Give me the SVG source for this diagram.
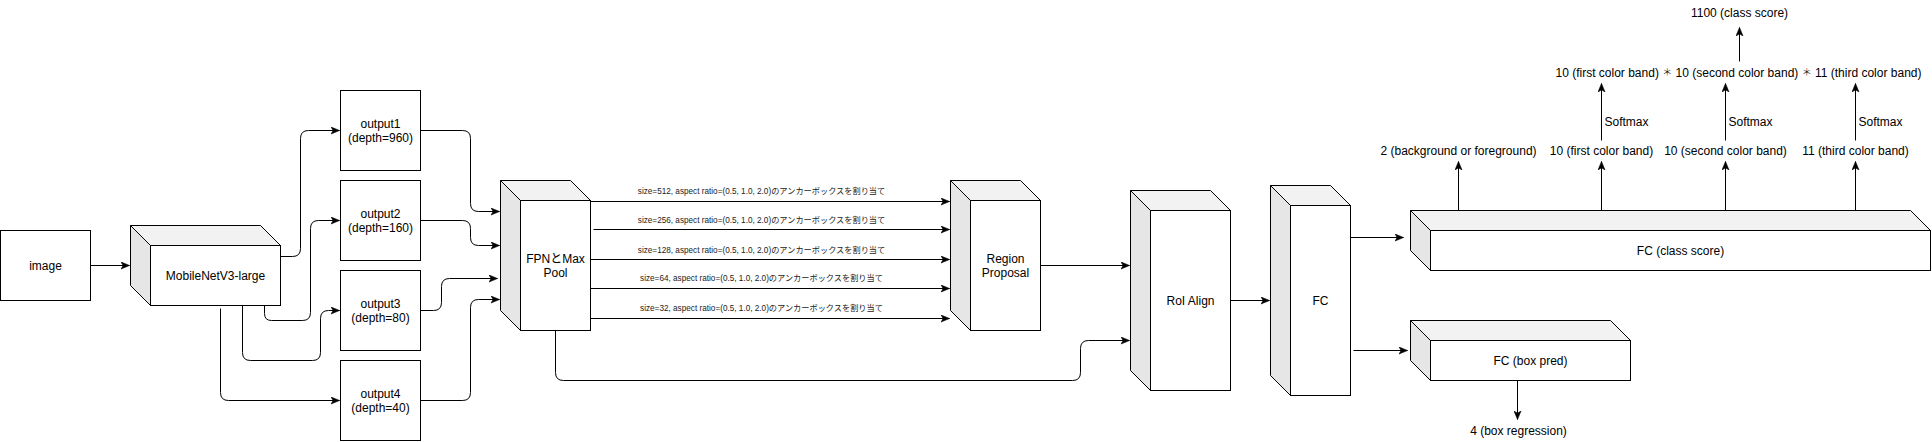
<svg xmlns="http://www.w3.org/2000/svg" width="1932" height="442" viewBox="0 0 1932 442">
<defs>
<marker id="arr" markerUnits="userSpaceOnUse" markerWidth="9" markerHeight="8" viewBox="0 0 9 8" refX="8.5" refY="4" orient="auto">
<path d="M0,0.5 L8.5,4 L0,7.5 L2.2,4 Z" fill="#000" stroke="#000" stroke-width="0.6"/>
</marker>
</defs>
<style>
.box{fill:#fff;stroke:#000;stroke-width:1}
.top{fill:#f2f2f2;stroke:#000;stroke-width:1;stroke-linejoin:miter}
.side{fill:#e6e6e6;stroke:#000;stroke-width:1}
.t{font-family:"Liberation Sans","Noto Sans CJK JP",Arial,sans-serif;font-size:12px;fill:#000;text-anchor:middle}
.s{font-family:"Liberation Sans","Noto Sans CJK JP",Arial,sans-serif;font-size:8.2px;fill:#222;text-anchor:middle}
.l{text-anchor:start}
.ast{font-family:"Noto Sans CJK JP",sans-serif;font-size:10px;font-weight:300}
.e{fill:none;stroke:#000;stroke-width:1;marker-end:url(#arr)}
</style>
<rect width="1932" height="442" fill="#fff"/>
<g transform="translate(0.5,0.5)">
<g id="image"><rect class="box" x="0" y="230" width="90" height="70"/><text class="t" x="45" y="269">image</text></g>
<g id="mobilenet">
<polygon class="side" points="130,225 150,245 150,305 130,285"/>
<polygon class="top" points="130,225 260,225 280,245 150,245"/>
<rect class="box" x="150" y="245" width="130" height="60"/>
<text class="t" x="215" y="279">MobileNetV3-large</text></g>
<g id="output1"><rect class="box" x="340" y="90" width="80" height="80"/><text class="t" x="380" y="127">output1</text><text class="t" x="380" y="141.4">(depth=960)</text></g>
<g id="output2"><rect class="box" x="340" y="180" width="80" height="80"/><text class="t" x="380" y="217">output2</text><text class="t" x="380" y="231.4">(depth=160)</text></g>
<g id="output3"><rect class="box" x="340" y="270" width="80" height="80"/><text class="t" x="380" y="307">output3</text><text class="t" x="380" y="321.4">(depth=80)</text></g>
<g id="output4"><rect class="box" x="340" y="360" width="80" height="80"/><text class="t" x="380" y="397">output4</text><text class="t" x="380" y="411.4">(depth=40)</text></g>
<g id="fpn">
<polygon class="side" points="500,180 520,200 520,330 500,310"/>
<polygon class="top" points="500,180 570,180 590,200 520,200"/>
<rect class="box" x="520" y="200" width="70" height="130"/>
<text class="t" x="555" y="262.5">FPNとMax</text><text class="t" x="555" y="276.5">Pool</text></g>
<g id="region-proposal">
<polygon class="side" points="950,180 970,200 970,330 950,310"/>
<polygon class="top" points="950,180 1020,180 1040,200 970,200"/>
<rect class="box" x="970" y="200" width="70" height="130"/>
<text class="t" x="1005" y="262.5">Region</text><text class="t" x="1005" y="276.5">Proposal</text></g>
<g id="roi-align">
<polygon class="side" points="1130,190 1150,210 1150,390 1130,370"/>
<polygon class="top" points="1130,190 1210,190 1230,210 1150,210"/>
<rect class="box" x="1150" y="210" width="80" height="180"/>
<text class="t" x="1190" y="304">RoI Align</text></g>
<g id="fc">
<polygon class="side" points="1270,185 1290,205 1290,395 1270,375"/>
<polygon class="top" points="1270,185 1330,185 1350,205 1290,205"/>
<rect class="box" x="1290" y="205" width="60" height="190"/>
<text class="t" x="1320" y="304">FC</text></g>
<g id="fc-class-score">
<polygon class="side" points="1410,210 1430,230 1430,270 1410,250"/>
<polygon class="top" points="1410,210 1910,210 1930,230 1430,230"/>
<rect class="box" x="1430" y="230" width="500" height="40"/>
<text class="t" x="1680" y="254">FC (class score)</text></g>
<g id="fc-box-pred">
<polygon class="side" points="1410,320 1430,340 1430,380 1410,360"/>
<polygon class="top" points="1410,320 1610,320 1630,340 1430,340"/>
<rect class="box" x="1430" y="340" width="200" height="40"/>
<text class="t" x="1530" y="364">FC (box pred)</text></g>
<g id="out-labels">
<text class="t" x="1518" y="434">4 (box regression)</text>
<text class="t" x="1458" y="154">2 (background or foreground)</text>
<text class="t" x="1601" y="154">10 (first color band)</text>
<text class="t" x="1725" y="154">10 (second color band)</text>
<text class="t" x="1855" y="154">11 (third color band)</text>
<text class="t" x="1738" y="76">10 (first color band) <tspan class="ast" dy="-0.5">＊</tspan><tspan dy="0.5"> 10 (second color band) </tspan><tspan class="ast" dy="-0.5">＊</tspan><tspan dy="0.5"> 11 (third color band)</tspan></text>
<text class="t" x="1739" y="16">1100 (class score)</text>
</g>
<g id="connectors">
<path class="e" d="M90,265 H129"/>
<path class="e" d="M280,256 H292 Q300,256 300,248 V138 Q300,130 308,130 H339"/>
<path class="e" d="M264,305 V313 Q264,320 271,320 H302 Q310,320 310,312 V228 Q310,220 318,220 H339"/>
<path class="e" d="M242,305 V352 Q242,360 250,360 H312 Q320,360 320,352 V318 Q320,310 328,310 H339"/>
<path class="e" d="M220,308 V392 Q220,400 228,400 H339"/>
<path class="e" d="M420,130 H462 Q470,130 470,138 V203 Q470,211 478,211 H499"/>
<path class="e" d="M420,220 H462 Q470,220 470,228 V237 Q470,245 478,245 H499"/>
<path class="e" d="M420,310 H433 Q441,310 441,302 V286 Q441,278 449,278 H497"/>
<path class="e" d="M420,400 H462 Q470,400 470,392 V307 Q470,299 478,299 H499"/>
<path class="e" d="M590,201 H949"/>
<path class="e" d="M593,229 H949"/>
<path class="e" d="M590,259 H949"/>
<path class="e" d="M590,288 H949"/>
<path class="e" d="M590,318 H949"/>
<path class="e" d="M555,330 V372 Q555,380 563,380 H1072 Q1080,380 1080,372 V348 Q1080,340 1088,340 H1129"/>
<path class="e" d="M1040,265 H1129"/>
<path class="e" d="M1230,300 H1269"/>
<path class="e" d="M1350,237 H1403"/>
<path class="e" d="M1353,350 H1407"/>
<path class="e" d="M1517,380 V419"/>
<path class="e" d="M1458,210 V161"/>
<path class="e" d="M1601,210 V161"/>
<path class="e" d="M1725,210 V161"/>
<path class="e" d="M1855,210 V161"/>
<path class="e" d="M1601,140 V83"/>
<path class="e" d="M1725,140 V83"/>
<path class="e" d="M1855,140 V83"/>
<path class="e" d="M1739,61 V27"/>
<text class="s" x="761" y="193.5">size=512, aspect ratio=(0.5, 1.0, 2.0)のアンカーボックスを割り当て</text>
<text class="s" x="761" y="222.8">size=256, aspect ratio=(0.5, 1.0, 2.0)のアンカーボックスを割り当て</text>
<text class="s" x="761" y="252.8">size=128, aspect ratio=(0.5, 1.0, 2.0)のアンカーボックスを割り当て</text>
<text class="s" x="761" y="280.8">size=64, aspect ratio=(0.5, 1.0, 2.0)のアンカーボックスを割り当て</text>
<text class="s" x="761" y="310.8">size=32, aspect ratio=(0.5, 1.0, 2.0)のアンカーボックスを割り当て</text>
<text class="t l" x="1604" y="125">Softmax</text>
<text class="t l" x="1728" y="125">Softmax</text>
<text class="t l" x="1858" y="125">Softmax</text>
</g>
</g>
</svg>
